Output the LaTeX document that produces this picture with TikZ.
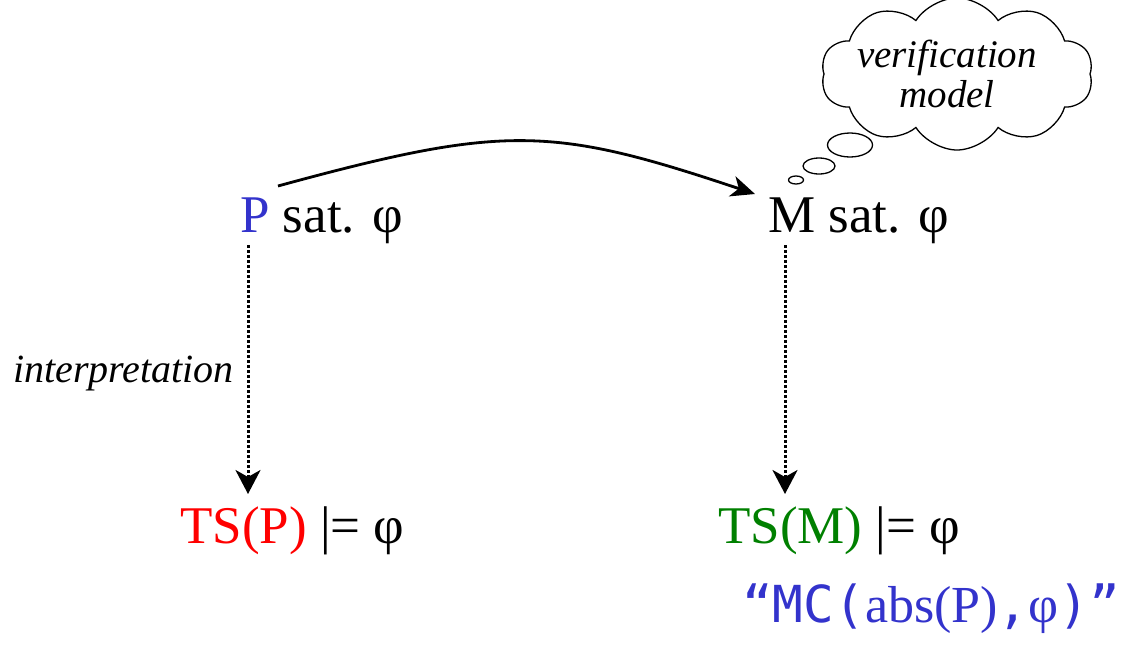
\documentclass[tikz,border=0pt]{standalone}
\usepackage{fontspec}
\setmainfont{Liberation Serif}
\newfontfamily\monof{DejaVu Sans Mono}
\usetikzlibrary{shapes.symbols,shapes.geometric,arrows.meta}
\definecolor{pblue}{RGB}{51,51,204}
\definecolor{tsred}{RGB}{255,0,0}
\definecolor{tsgreen}{RGB}{0,128,0}
\tikzset{
  bigtext/.style={inner sep=0pt, anchor=base west, font=\fontsize{53}{60}\selectfont},
  ittext/.style={inner sep=0pt, font=\fontsize{40}{44}\selectfont\itshape},
  dotarrow/.style={line width=3pt, dash pattern=on 3pt off 2pt, -{Stealth[length=24pt,width=25pt,inset=7pt]}},
  curvearrow/.style={line width=2.8pt, -{Stealth[length=24pt,width=21pt,inset=7pt]}},
  bubble/.style={ellipse, draw, line width=1.3pt, inner sep=0pt},
}
\newcommand{\mcmono}[1]{{\monof\fontsize{51}{56}\selectfont #1}}
\begin{document}
\begin{tikzpicture}[x=1pt,y=-1pt]
\useasboundingbox (0,0) rectangle (1132,646);
% main statements
\node[bigtext] (lp) at (240,232) {\textcolor{pblue}{P} sat. φ};
\node[bigtext] (rm) at (768,232) {M sat. φ};
\node[bigtext] (lts) at (180,543) {\textcolor{tsred}{TS(P)} |= φ};
\node[bigtext] (rts) at (718,543) {\textcolor{tsgreen}{TS(M)} |= φ};
\node[inner sep=0pt, anchor=base west, text=pblue, font=\fontsize{52}{56}\selectfont] (mc) at (742,622)
  {\mcmono{“MC(}abs(P)\mcmono{,}φ\mcmono{)”}};
\node[ittext, anchor=base west] (interp) at (13,382) {interpretation};
% cloud
\node[cloud, draw, line width=1.3pt, cloud puffs=10, cloud puff arc=115, cloud ignores aspect,
      minimum width=272pt, minimum height=152pt] (cloud) at (957,74) {};
\node[ittext, align=center, font=\fontsize{39}{40}\selectfont\itshape, anchor=base] (ctext) at (947,107) {verification\\model};
\node[bubble, minimum width=45pt, minimum height=24pt] (b1) at (850,145) {};
\node[bubble, minimum width=32pt, minimum height=16pt] (b2) at (819,166) {};
\node[bubble, minimum width=15pt, minimum height=8pt] (b3) at (796,180) {};
% connectors
\coordinate (cs) at (278,186);
\coordinate (ce) at (755,194);
\draw[curvearrow] (cs) .. controls (505,124) and (552,126) .. (ce);
\coordinate (l1) at (248,245);
\coordinate (l2) at (248,494);
\draw[dotarrow] (l1) -- (l2);
\coordinate (r1) at (785,245);
\coordinate (r2) at (785,494);
\draw[dotarrow] (r1) -- (r2);
\end{tikzpicture}
\end{document}
